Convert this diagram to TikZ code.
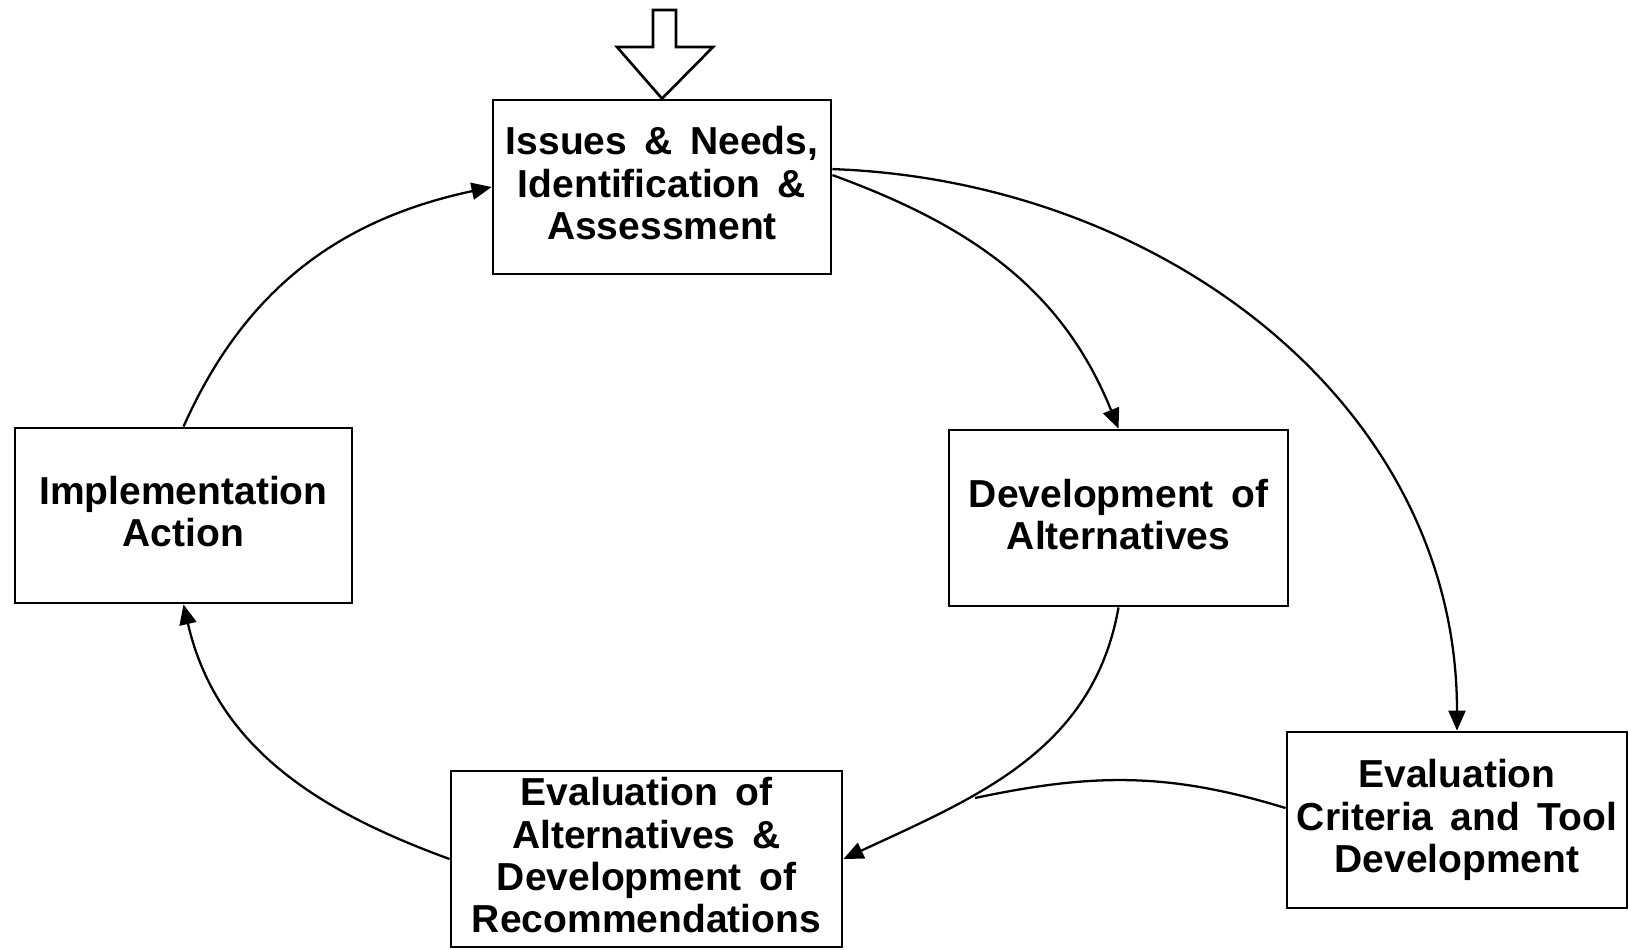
\documentclass[tikz,border=0pt]{standalone}
\usepackage{fontspec}
\setmainfont{Liberation Sans}[WordSpace=1.6]
\usetikzlibrary{arrows.meta}

\begin{document}
\begin{tikzpicture}[x=0.2mm, y=-0.2mm, line width=1.3pt,
  box/.style={draw, line width=1.6pt, align=center, inner sep=0pt, text depth=4.6pt,
    font=\bfseries\fontsize{22.2}{24}\selectfont},
  flow/.style={-{Triangle[length=4mm, width=3.4mm]}}]
  \useasboundingbox (0, 0) rectangle (1629, 949);

  % the five stages
  \node[box, minimum width=338*0.2mm, minimum height=174*0.2mm] (issues) at (662, 187)
    {Issues \& Needs,\\ Identification \&\\ Assessment};
  \node[box, minimum width=337*0.2mm, minimum height=175*0.2mm] (impl) at (183.5, 515.5)
    {Implementation\\ Action};
  \node[box, minimum width=339*0.2mm, minimum height=176*0.2mm] (devalt) at (1118.5, 518)
    {Development of\\ Alternatives};
  \node[box, minimum width=340*0.2mm, minimum height=176*0.2mm] (evcrit) at (1457, 820)
    {Evaluation\\ Criteria and Tool\\ Development};
  \node[box, minimum width=391*0.2mm, minimum height=176*0.2mm] (evalt) at (646.5, 859)
    {Evaluation of\\ Alternatives \&\\ Development of\\ Recommendations};

  % hollow entry arrow
  \draw[line width=1.5pt, line join=miter] (653, 10) -- (676, 10) -- (676, 47) -- (713, 47)
    -- (issues.north) -- (617, 47) -- (653, 47) -- cycle;

  % cycle connectors
  \draw[flow] (impl.north) to[out=66, in=192] (issues.west);
  \draw[flow] (issues.4) to[out=-20, in=112] (devalt.north);
  \draw[flow] (issues.6) to[out=-2, in=90] (evcrit.north);
  \draw[flow] (devalt.south) to[out=-100, in=25] (evalt.east);
  \coordinate (merge) at (975, 798);
  \draw (evcrit.176) to[out=163, in=12] (merge);
  \draw[flow] (evalt.west) to[out=160, in=-77] (impl.south);
\end{tikzpicture}
\end{document}
